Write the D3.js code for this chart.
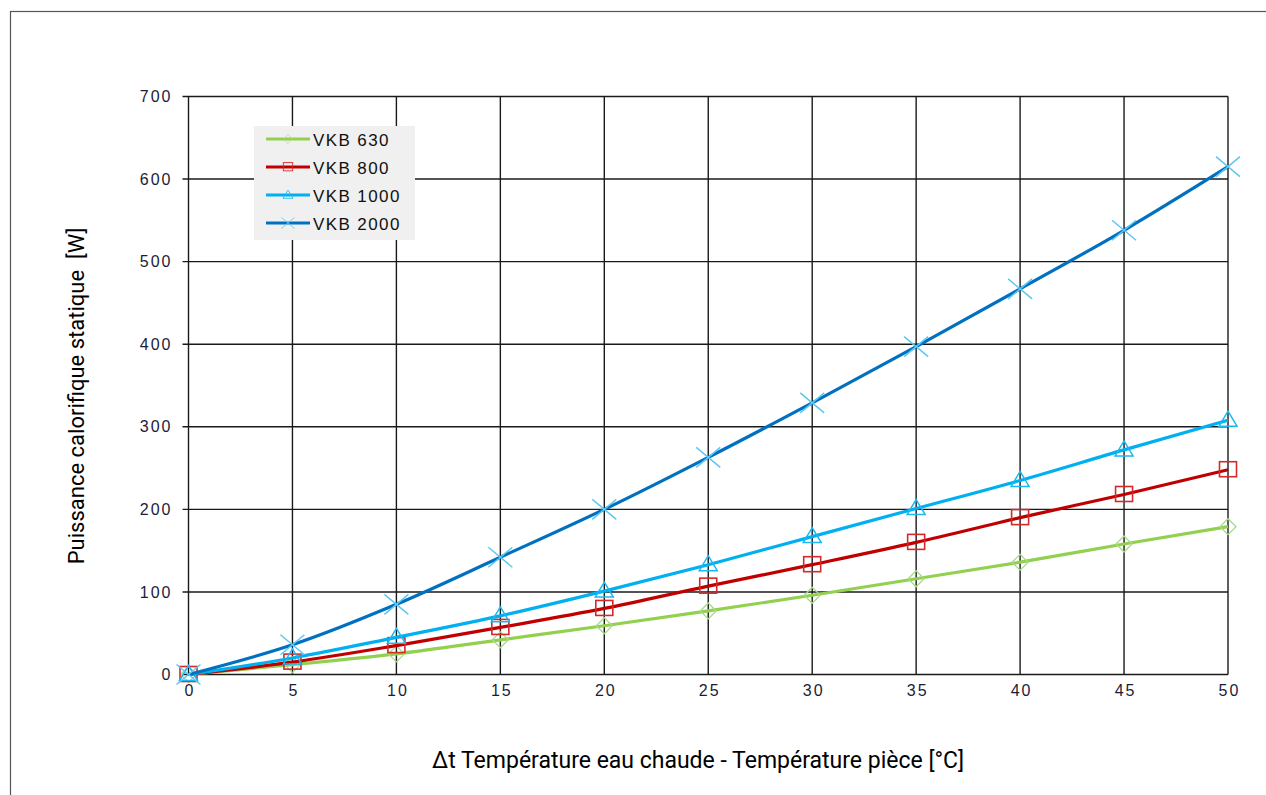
<!DOCTYPE html>
<html>
<head>
<meta charset="utf-8">
<script src="https://cdn.jsdelivr.net/npm/d3@7"></script>
<style>
  body { margin: 0; background: #fff; }
  svg { display: block; }
</style>
</head>
<body>
<div id="chart"></div>
<script>
// valeurs
const deltaT = [0, 5, 10, 15, 20, 25, 30, 35, 40, 45, 50];
const vkb630 = [0, 12, 25, 42, 59, 77, 96, 116, 136, 158, 179];
const vkb800 = [0, 15, 35, 57, 80, 107, 133, 160, 190, 218, 248];
const vkb1000 = [0, 20, 45, 71, 101, 133, 167, 201, 235, 272, 308];
const vkb2000 = [0, 36, 85, 142, 200, 263, 329, 397, 467, 538, 615];
const yTicks = [0, 100, 200, 300, 400, 500, 600, 700];
const xTicks = [0, 5, 10, 15, 20, 25, 30, 35, 40, 45, 50];

const series = [
  { name: 'VKB 630', values: vkb630, line: '#92d050', mark: '#a9d98a', shape: 'diamond' },
  { name: 'VKB 800', values: vkb800, line: '#c00000', mark: '#d42a2a', shape: 'square' },
  { name: 'VKB 1000', values: vkb1000, line: '#00b0f0', mark: '#1ab8f2', shape: 'triangle' },
  { name: 'VKB 2000', values: vkb2000, line: '#0070c0', mark: '#5cc8f2', shape: 'cross' }
];

const W = 1266, H = 795;
const margin = { top: 96.5, right: 38, bottom: 120.5, left: 188.5 };
const width = W - margin.left - margin.right;
const height = H - margin.top - margin.bottom;

const svg = d3.select('#chart').append('svg')
  .attr('width', W)
  .attr('height', H);

// cadre extérieur
svg.append('rect')
  .attr('x', 10.5).attr('y', 11.5)
  .attr('width', W).attr('height', H)
  .attr('fill', 'none')
  .attr('stroke', '#555')
  .attr('stroke-width', 1.2);

const g = svg.append('g')
  .attr('transform', `translate(${margin.left},${margin.top})`);

const x = d3.scaleLinear().domain([0, 50]).range([0, width]);
const y = d3.scaleLinear().domain([0, 700]).range([height, 0]);

// grille
g.append('g')
  .selectAll('line')
  .data(yTicks)
  .join('line')
  .attr('x1', -6).attr('x2', width)
  .attr('y1', d => y(d)).attr('y2', d => y(d))
  .attr('stroke', '#1a1a1a').attr('stroke-width', 1.4);

g.append('g')
  .selectAll('line')
  .data(xTicks)
  .join('line')
  .attr('x1', d => x(d)).attr('x2', d => x(d))
  .attr('y1', 0).attr('y2', height)
  .attr('stroke', '#1a1a1a').attr('stroke-width', 1.4);

// axes (texte seulement)
const tickFont = sel => sel
  .style('font-family', '"Liberation Sans", Arial, sans-serif')
  .style('font-size', '16px')
  .style('letter-spacing', '2px')
  .attr('fill', '#1c1c38');

const yAxis = g.append('g')
  .call(d3.axisLeft(y).tickValues(yTicks).tickSize(0).tickPadding(16));
yAxis.select('.domain').remove();
yAxis.selectAll('text').call(tickFont);

const xAxis = g.append('g')
  .attr('transform', `translate(1,${height})`)
  .call(d3.axisBottom(x).tickValues(xTicks).tickSize(0).tickPadding(10));
xAxis.select('.domain').remove();
xAxis.selectAll('text').call(tickFont);

// symboles
function drawMarker(sel, shape, color) {
  if (shape === 'diamond') {
    sel.append('path').attr('d', 'M0,-8L8,0L0,8L-8,0Z')
      .attr('fill', 'none').attr('stroke', color).attr('stroke-width', 1.3);
  } else if (shape === 'square') {
    sel.append('rect').attr('x', -8.5).attr('y', -8).attr('width', 17).attr('height', 15)
      .attr('fill', 'none').attr('stroke', color).attr('stroke-width', 1.6);
  } else if (shape === 'triangle') {
    sel.append('path').attr('d', 'M0,-9L9,6L-9,6Z')
      .attr('fill', 'none').attr('stroke', color).attr('stroke-width', 1.5);
  } else {
    sel.append('path').attr('d', 'M-12,-10L12,10M-12,10L12,-10')
      .attr('fill', 'none').attr('stroke', color).attr('stroke-width', 1.5);
  }
}

const line = d3.line()
  .x((d, i) => x(deltaT[i]))
  .y(d => y(d))
  .curve(d3.curveMonotoneX);

series.forEach(s => {
  g.append('path')
    .datum(s.values)
    .attr('d', line)
    .attr('fill', 'none')
    .attr('stroke', s.line)
    .attr('stroke-width', 3.2);

  g.append('g')
    .selectAll('g')
    .data(s.values)
    .join('g')
    .attr('transform', (d, i) => `translate(${x(deltaT[i])},${y(d)})`)
    .each(function() { drawMarker(d3.select(this), s.shape, s.mark); });
});

// légende
const legend = svg.append('g').attr('transform', 'translate(254,126)');
legend.append('rect')
  .attr('width', 161).attr('height', 114)
  .attr('fill', '#f0f0f0');

series.forEach((s, i) => {
  const row = legend.append('g').attr('transform', `translate(0,${13 + i * 28})`);
  row.append('line')
    .attr('x1', 12).attr('x2', 56)
    .attr('stroke', s.line).attr('stroke-width', 3.2);
  const m = row.append('g').attr('transform', 'translate(34,0) scale(0.55)');
  drawMarker(m, s.shape, s.mark);
  row.append('text')
    .attr('x', 59).attr('y', 1).attr('dy', '0.35em')
    .style('font-family', '"Liberation Sans", Arial, sans-serif')
    .style('font-size', '17px')
    .style('letter-spacing', '1.4px')
    .attr('fill', '#111')
    .text(s.name);
});

// titres des axes
svg.append('text')
  .attr('transform', 'translate(84,396) rotate(-90)')
  .attr('text-anchor', 'middle')
  .style('font-family', 'Roboto, sans-serif')
  .style('font-size', '22px')
  .style('white-space', 'pre')
  .attr('fill', '#000')
  .text('Puissance calorifique statique  [W]');

svg.append('text')
  .attr('x', 698).attr('y', 768)
  .attr('text-anchor', 'middle')
  .style('font-family', 'Roboto, sans-serif')
  .style('font-size', '23px')
  .attr('fill', '#000')
  .text('Δt Température eau chaude - Température pièce [°C]');
</script>
</body>
</html>
